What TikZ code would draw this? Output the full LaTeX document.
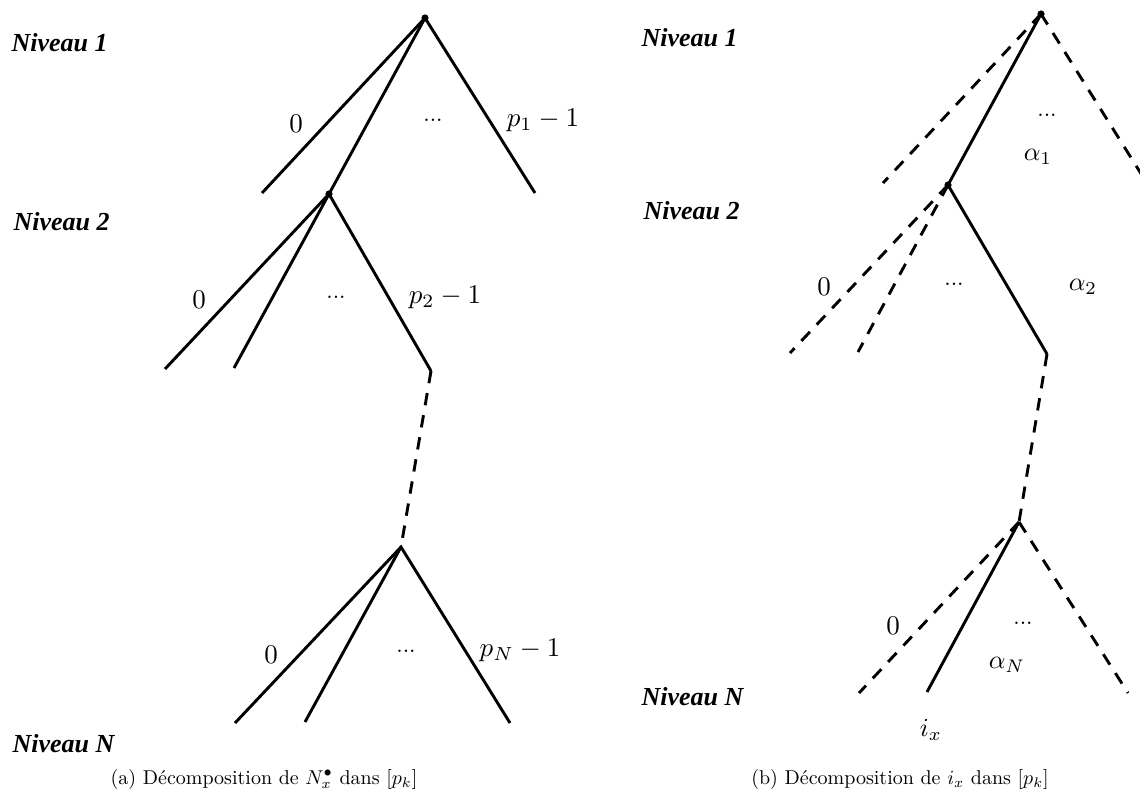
\documentclass[tikz,border=0pt]{standalone}
\usepackage{fontspec}
\newfontfamily\nivfont{Liberation Serif}
\begin{document}
\begin{tikzpicture}[x=0.5pt,y=-0.5pt,
  br/.style={line width=1.45pt},
  dbr/.style={line width=1.45pt,dash pattern=on 6.2pt off 5pt},
  lab/.style={inner sep=0pt,scale=1.35},
  alab/.style={inner sep=0pt,scale=1.3},
  dts/.style={inner sep=0pt,anchor=base,scale=1.15},
  niv/.style={inner sep=0pt,anchor=west,scale=1.3,font=\nivfont\bfseries\itshape},
  captext/.style={inner sep=0pt,scale=1.0}]
\useasboundingbox (0,0) rectangle (1140,796);
\clip (0,0) rectangle (1140,796);
% ---------- left tree ----------
\coordinate (L1) at (425,18);
\coordinate (L1a) at (262,193);
\coordinate (L2) at (329,194);
\coordinate (L1c) at (535,193);
\coordinate (L2a) at (165,369);
\coordinate (L2b) at (234,368);
\coordinate (L2c) at (431,371);
\coordinate (LN) at (401,547);
\coordinate (LNa) at (235,723);
\coordinate (LNb) at (305,722);
\coordinate (LNc) at (510,723);
\draw[br] (L1a) -- (L1) -- (L1c);
\draw[br] (L1) -- (L2);
\draw[br] (L2a) -- (L2) -- (L2c);
\draw[br] (L2) -- (L2b);
\draw[dbr] (L2c) -- (LN);
\draw[br] (LNa) -- (LN) -- (LNc);
\draw[br] (LN) -- (LNb);
\fill (L1) circle (1.8pt);
\fill (L2) circle (1.8pt);
\node[lab] (l10) at (296,124) {$0$};
\node[dts] (l1d) at (433,122) {...};
\node[lab] (l1p) at (543,120) {$p_1-1$};
\node[lab] (l20) at (199,300) {$0$};
\node[dts] (l2d) at (336,299) {...};
\node[lab] (l2p) at (445,297) {$p_2-1$};
\node[lab] (lN0) at (271,655) {$0$};
\node[dts] (lNd) at (406,652) {...};
\node[lab] (lNp) at (520,650) {$p_N-1$};
\node[niv] (ln1) at (11,43) {Niveau 1};
\node[niv] (ln2) at (13,222) {Niveau 2};
\node[niv] (lnN) at (12,744) {Niveau N};
\node[captext] (capa) at (264,779) {(a) Décomposition de $N_x^\bullet$ dans $[p_k]$};
% ---------- right tree ----------
\coordinate (R1) at (1041,14);
\coordinate (R1a) at (883,183);
\coordinate (R2) at (948,185);
\coordinate (R1c) at (1150,188);
\coordinate (R2a) at (790,353);
\coordinate (R2b) at (858,352);
\coordinate (R2c) at (1047,354);
\coordinate (RN) at (1019,522);
\coordinate (RNa) at (859,693);
\coordinate (RNb) at (927,692);
\coordinate (RNc) at (1128,693);
\draw[dbr] (R1) -- (R1a);
\draw[dbr] (R1) -- (R1c);
\draw[br] (R1) -- (R2);
\draw[dbr] (R2) -- (R2a);
\draw[dbr] (R2) -- (R2b);
\draw[br] (R2) -- (R2c);
\draw[dbr] (R2c) -- (RN);
\draw[dbr] (RN) -- (RNa);
\draw[dbr] (RN) -- (RNc);
\draw[br] (RN) -- (RNb);
\fill (R1) circle (1.8pt);
\fill (R2) circle (1.8pt);
\node[dts] (r1d) at (1047,117) {...};
\node[alab] (r1a) at (1038,157) {$\alpha_1$};
\node[lab] (r20) at (824,287) {$0$};
\node[dts] (r2d) at (954,286) {...};
\node[alab] (r2a) at (1083,287) {$\alpha_2$};
\node[lab] (rN0) at (893,626) {$0$};
\node[dts] (rNd) at (1023,624) {...};
\node[alab] (rNa) at (1007,665) {$\alpha_N$};
\node[alab] (rix) at (931,730) {$i_x$};
\node[niv] (rn1) at (641,38) {Niveau 1};
\node[niv] (rn2) at (643,211) {Niveau 2};
\node[niv] (rnN) at (641,697) {Niveau N};
\node[captext] (capb) at (900,779) {(b) Décomposition de $i_x$ dans $[p_k]$};
\end{tikzpicture}
\end{document}
